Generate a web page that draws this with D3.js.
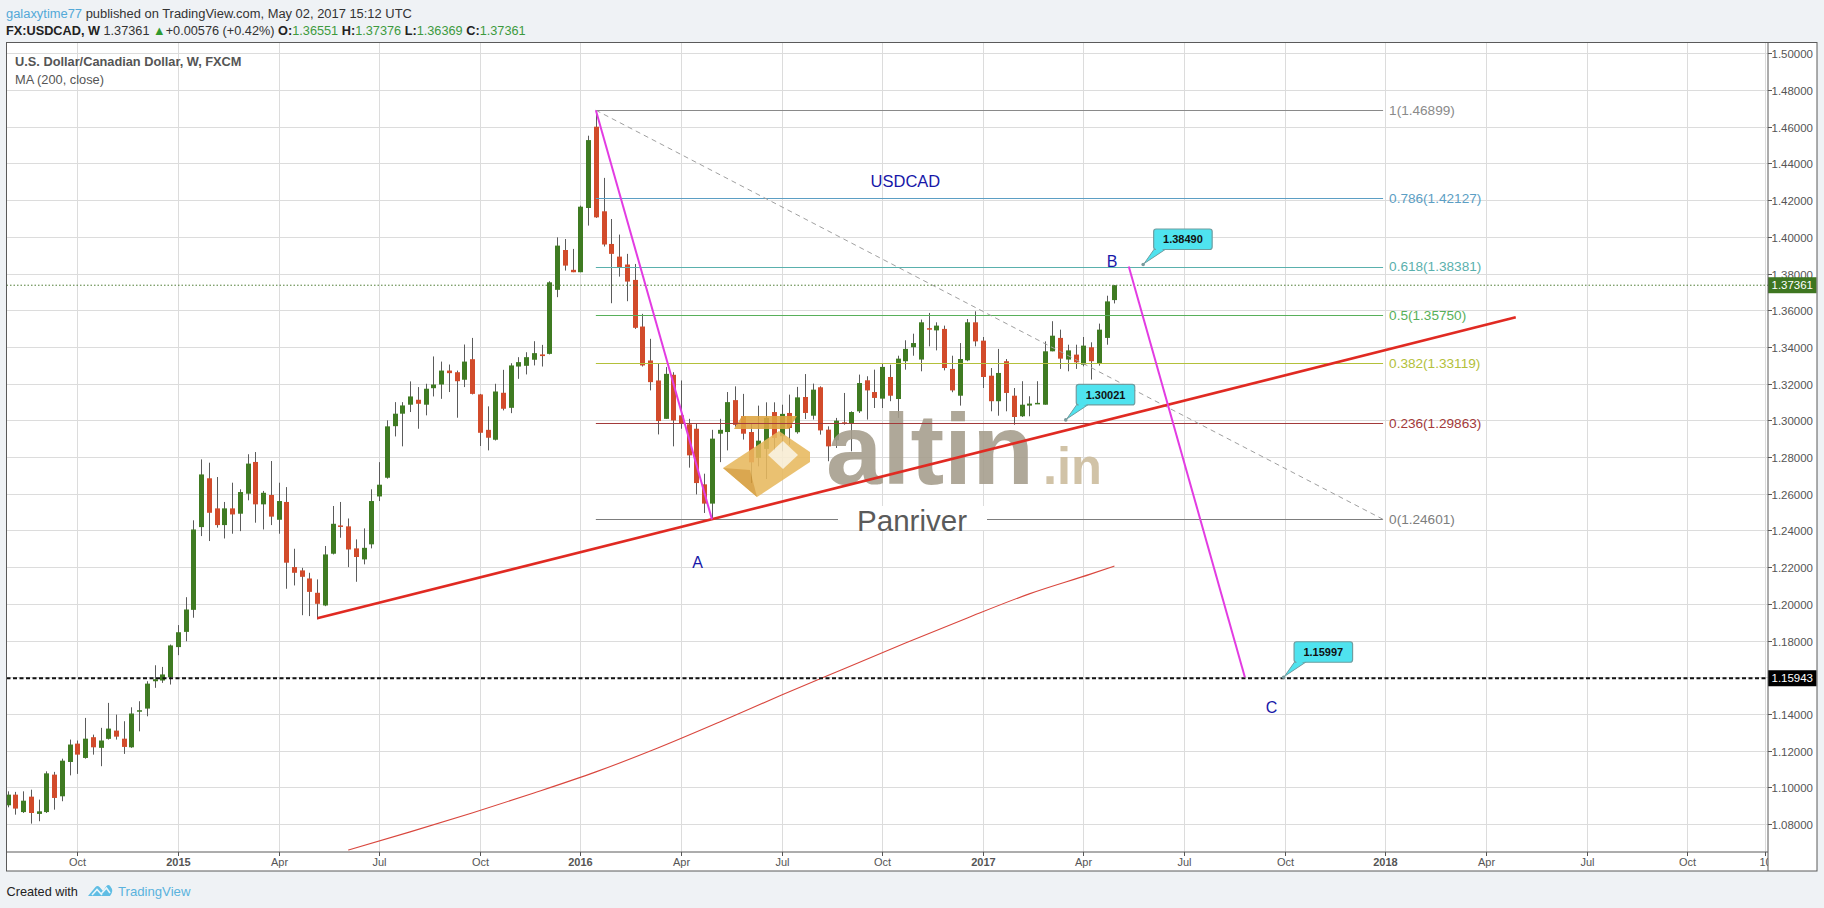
<!DOCTYPE html>
<html><head><meta charset="utf-8">
<script src="https://cdn.jsdelivr.net/npm/d3@7"></script>
<style>
html,body{margin:0;padding:0;background:#eff2f5;}
svg{display:block;font-family:"Liberation Sans",Arial,sans-serif;}
</style></head><body>
<svg id="c" width="1824" height="908"></svg>
<script>
// ---------------- DATA ----------------
const firstWeek = "2014-08-04";   // weekly bars (Mondays)
const open = [1.0902,1.0960,1.0865,1.0949,1.0855,1.0865,1.1069,1.0951,1.1138,1.1238,1.1160,1.1273,1.1215,1.1264,1.1309,1.1265,1.1218,1.1415,1.1429,1.1578,1.1582,1.1600,1.1764,1.1847,1.1967,1.2418,1.2684,1.2520,1.2429,1.2520,1.2491,1.2600,1.2773,1.2542,1.2593,1.2458,1.2555,1.2200,1.2182,1.2138,1.2060,1.1991,1.2273,1.2427,1.2422,1.2302,1.2242,1.2324,1.2585,1.2687,1.2968,1.3036,1.3085,1.3112,1.3085,1.3175,1.3195,1.3271,1.3262,1.3221,1.3333,1.3141,1.2948,1.2894,1.3150,1.3068,1.3293,1.3297,1.3330,1.3359,1.3362,1.3711,1.3928,1.3820,1.3807,1.4157,1.4600,1.4139,1.3961,1.3892,1.3849,1.3765,1.3511,1.3326,1.3217,1.3008,1.3248,1.3027,1.2978,1.2954,1.2651,1.2546,1.2927,1.2936,1.3110,1.3022,1.2936,1.2795,1.2844,1.3045,1.2913,1.3040,1.2935,1.3127,1.3025,1.3180,1.2949,1.2891,1.2989,1.2982,1.3049,1.3218,1.3154,1.3118,1.3236,1.3116,1.3322,1.3398,1.3331,1.3502,1.3490,1.3498,1.3280,1.3134,1.3327,1.3534,1.3434,1.3243,1.3104,1.3322,1.3134,1.3022,1.3080,1.3092,1.3085,1.3376,1.3449,1.3331,1.3358,1.3303,1.3398,1.3309,1.3449,1.36551];
const high = [1.0978,1.0975,1.0978,1.0987,1.0933,1.1087,1.1084,1.1156,1.1260,1.1255,1.1378,1.1287,1.1324,1.1460,1.1396,1.1360,1.1436,1.1469,1.1578,1.1665,1.1656,1.1778,1.1884,1.2036,1.2455,1.2787,1.2769,1.2691,1.2555,1.2660,1.2624,1.2815,1.2827,1.2615,1.2778,1.2660,1.2636,1.2300,1.2196,1.2169,1.2133,1.2315,1.2533,1.2555,1.2465,1.2351,1.2411,1.2624,1.2772,1.3000,1.3099,1.3099,1.3212,1.3181,1.3199,1.3348,1.3320,1.3304,1.3271,1.3413,1.3449,1.3144,1.3076,1.3199,1.3275,1.3311,1.3344,1.3371,1.3431,1.3411,1.3758,1.3997,1.3988,1.3934,1.4170,1.4551,1.4690,1.4321,1.4097,1.4012,1.3907,1.3852,1.3580,1.3444,1.3308,1.3290,1.3262,1.3217,1.3008,1.2981,1.2709,1.2948,1.3008,1.3154,1.3185,1.3144,1.2985,1.3080,1.3098,1.3098,1.3085,1.3140,1.3182,1.3252,1.3200,1.3185,1.2967,1.3013,1.3149,1.3049,1.3249,1.3240,1.3276,1.3312,1.3303,1.3352,1.3436,1.3472,1.3549,1.3585,1.3534,1.3516,1.3352,1.3421,1.3552,1.3594,1.3454,1.3285,1.3389,1.3334,1.3176,1.3213,1.3131,1.3213,1.3430,1.3540,1.3494,1.3412,1.3412,1.3454,1.3425,1.3527,1.3679,1.37376];
const low = [1.0891,1.0851,1.0860,1.0802,1.0815,1.0860,1.0878,1.0924,1.1065,1.1073,1.1156,1.1178,1.1115,1.1260,1.1260,1.1182,1.1215,1.1305,1.1387,1.1542,1.1569,1.1560,1.1720,1.1796,1.1924,1.2369,1.2342,1.2415,1.2356,1.2382,1.2396,1.2564,1.2442,1.2405,1.2429,1.2382,1.2082,1.2100,1.1938,1.1933,1.1915,1.1987,1.2269,1.2360,1.2200,1.2120,1.2215,1.2302,1.2560,1.2682,1.2912,1.2858,1.3045,1.2954,1.3027,1.3130,1.3117,1.3154,1.3014,1.3181,1.3141,1.2860,1.2836,1.2890,1.3054,1.3039,1.3226,1.3250,1.3299,1.3293,1.3359,1.3671,1.3816,1.3807,1.3807,1.4061,1.4103,1.3947,1.3638,1.3783,1.3649,1.3498,1.3293,1.3163,1.2923,1.3008,1.2858,1.2954,1.2742,1.2596,1.2495,1.2460,1.2772,1.2836,1.2965,1.2895,1.2658,1.2749,1.2680,1.2837,1.2831,1.2867,1.2927,1.3007,1.3004,1.2922,1.2777,1.2849,1.2976,1.2831,1.3040,1.3004,1.3067,1.3067,1.3104,1.3013,1.3276,1.3352,1.3267,1.3403,1.3381,1.3272,1.3153,1.3080,1.3322,1.3403,1.3176,1.3049,1.3025,1.3049,1.2976,1.3018,1.3022,1.3089,1.3085,1.3376,1.3280,1.3267,1.3280,1.3294,1.3222,1.3298,1.3412,1.36369];
const close = [1.0960,1.0884,1.0927,1.0860,1.0869,1.1076,1.0942,1.1145,1.1233,1.1178,1.1265,1.1218,1.1255,1.1320,1.1276,1.1220,1.1402,1.1420,1.1565,1.1589,1.1615,1.1773,1.1845,1.1969,1.2405,1.2705,1.2496,1.2429,1.2520,1.2487,1.2609,1.2764,1.2542,1.2605,1.2475,1.2560,1.2224,1.2169,1.2147,1.2065,1.2000,1.2269,1.2436,1.2420,1.2296,1.2255,1.2305,1.2560,1.2649,1.2967,1.3036,1.3081,1.3130,1.3090,1.3172,1.3195,1.3271,1.3257,1.3213,1.3320,1.3144,1.2932,1.2905,1.3157,1.3063,1.3299,1.3317,1.3344,1.3366,1.3350,1.3752,1.3952,1.3843,1.3807,1.4164,1.4527,1.4106,1.3958,1.3907,1.3834,1.3756,1.3504,1.3299,1.3208,1.2996,1.3253,1.2999,1.2981,1.2809,1.2658,1.2546,1.2900,1.2948,1.3099,1.2975,1.2927,1.2771,1.2889,1.3013,1.2904,1.3035,1.2958,1.3125,1.3040,1.3167,1.2945,1.2858,1.2998,1.2980,1.3045,1.3203,1.3163,1.3122,1.3291,1.3134,1.3336,1.3389,1.3421,1.3534,1.3497,1.3516,1.3285,1.3163,1.3334,1.3534,1.3430,1.3236,1.3104,1.3258,1.3149,1.3018,1.3085,1.3091,1.3095,1.3376,1.3461,1.3336,1.3381,1.3316,1.3407,1.3322,1.3494,1.3648,1.37361];

// MA(200, close)
const maDates  = ["2015-06-08","2015-08-03","2015-09-28","2015-11-23","2016-01-18","2016-03-14","2016-05-09","2016-07-04","2016-08-29","2016-10-24","2016-12-19","2017-02-13","2017-04-10","2017-05-01"];
const maValues = [1.0658,1.0757,1.0860,1.0969,1.1084,1.1214,1.1356,1.1503,1.1645,1.1786,1.1923,1.2054,1.2163,1.2206];

const priceTicks = [1.08,1.10,1.12,1.14,1.16,1.18,1.20,1.22,1.24,1.26,1.28,1.30,1.32,1.34,1.36,1.38,1.40,1.42,1.44,1.46,1.48,1.50];
const timeTickDates  = ["2014-10-06","2015-01-05","2015-04-06","2015-07-06","2015-10-05","2016-01-04","2016-04-04","2016-07-04","2016-10-03","2017-01-02","2017-04-03","2017-07-03","2017-10-02","2018-01-01","2018-04-02","2018-07-02","2018-10-01","2018-12-10"];
const timeTickLabels = ["Oct","2015","Apr","Jul","Oct","2016","Apr","Jul","Oct","2017","Apr","Jul","Oct","2018","Apr","Jul","Oct","10"];

const fibRatios = ["1","0.786","0.618","0.5","0.382","0.236","0"];
const fibValues = [1.46899,1.42127,1.38381,1.35750,1.33119,1.29863,1.24601];
const fibStart = "2016-01-18", fibEnd = "2017-12-30";

const lastPrice = 1.37361;
const targetLine = 1.15943;

const trendRed = [["2015-05-11",1.1921],["2018-04-29",1.3561]];
const waveAB   = [["2016-01-18",1.46899],["2016-05-02",1.24601]];
const waveBC   = [["2017-05-14",1.38381],["2017-08-27",1.15997]];

const calloutDates  = ["2017-05-27","2017-03-18","2017-10-01"];
const calloutValues = [1.38490,1.30021,1.15997];

const waveNames  = ["A","B","C"];
const waveDates  = ["2016-04-19","2017-04-29","2017-09-20"];
const waveValues = [1.2228,1.3868,1.1438];

// ---------------- LAYOUT ----------------
const PL=6.5, PR=1768, PT=42.5, PB=852, AXR=1817, XB=871;
const svg = d3.select("#c");
const P = d3.utcParse("%Y-%m-%d");
const x = d3.scaleUtc().domain([P("2014-10-06"),P("2018-01-01")]).range([77.3,1385.3]);
const y = d3.scaleLinear().domain([1.064741,1.505886]).range([PB,PT]);
const dates = open.map((_,i)=>d3.utcWeek.offset(P(firstWeek), i));

function fitWidth(sel, w){
  const n = sel.node(), len = n.getComputedTextLength();
  if(len>0) sel.attr("font-size", parseFloat(sel.attr("font-size"))*w/len);
}

// frame
svg.append("rect").attr("x",PL).attr("y",PT).attr("width",AXR-PL).attr("height",XB-PT).attr("fill","#fff");
svg.append("defs").append("clipPath").attr("id","plot").append("rect")
  .attr("x",PL).attr("y",PT).attr("width",PR-PL).attr("height",PB-PT);
svg.select("defs").append("clipPath").attr("id","xax").append("rect")
  .attr("x",PL).attr("y",PB).attr("width",PR-PL).attr("height",XB-PB);

const g = svg.append("g").attr("clip-path","url(#plot)");

// grid
g.selectAll("line.hg").data(priceTicks).join("line")
  .attr("x1",PL).attr("x2",PR).attr("y1",d=>Math.round(y(d))+0.5).attr("y2",d=>Math.round(y(d))+0.5)
  .attr("stroke","#dcdcdc").attr("stroke-width",1);
g.selectAll("line.vg").data(timeTickDates).join("line")
  .attr("y1",PT).attr("y2",PB).attr("x1",d=>Math.round(x(P(d)))+0.5).attr("x2",d=>Math.round(x(P(d)))+0.5)
  .attr("stroke","#dcdcdc").attr("stroke-width",1);

// MA 200
g.append("path").datum(maDates.map((d,i)=>[P(d),maValues[i]]))
  .attr("d",d3.line().x(d=>x(d[0])).y(d=>y(d[1])).curve(d3.curveMonotoneX))
  .attr("fill","none").attr("stroke","#d9473e").attr("stroke-width",1.1);

// candles
const UP="#3f7b22", DN="#d24b2b";
const cg = g.append("g");
dates.forEach((d,i)=>{
  const cx = Math.round(x(d));
  const up = close[i]>=open[i];
  cg.append("line").attr("x1",cx+0.5).attr("x2",cx+0.5).attr("y1",y(high[i])).attr("y2",y(low[i]))
    .attr("stroke","#5b5b5b").attr("stroke-width",1);
  const t = y(Math.max(open[i],close[i])), b = y(Math.min(open[i],close[i]));
  cg.append("rect").attr("x",cx-2).attr("width",5).attr("y",t).attr("height",Math.max(1.5,b-t))
    .attr("fill",up?UP:DN);
});

// watermark
const wm = g.append("g").attr("opacity",0.88);
wm.append("polygon").attr("points","723,468 779,431 810,452 810,462 757,497").attr("fill","#e8b95e");
wm.append("polygon").attr("points","723,468 757,497 750,470").attr("fill","#d69c38");
wm.append("polygon").attr("points","768,455 783,441 798,455 783,469").attr("fill","#f8ecd2");
wm.append("polygon").attr("points","742,416 797,416 789,429 734,429").attr("fill","#dfa640");
wm.append("text").attr("x",826).attr("y",484).attr("font-size",100).attr("font-weight","bold")
  .attr("fill","#a59d8c").attr("textLength",208).attr("lengthAdjust","spacingAndGlyphs").text("altin");
wm.append("text").attr("x",1043).attr("y",484).attr("font-size",52).attr("font-weight","bold")
  .attr("fill","#cbbb9c").attr("textLength",59).attr("lengthAdjust","spacingAndGlyphs").text(".in");

// fib retracement
const fibColors = ["#8a8a8a","#5b9ec4","#5ab0ad","#58b05a","#b3c03a","#a33a3a","#7d7d7d"];
const fx1 = x(P(fibStart)), fx2 = x(P(fibEnd));
fibValues.forEach((v,i)=>{
  g.append("line").attr("x1",fx1).attr("x2",fx2).attr("y1",Math.round(y(v))+0.5).attr("y2",Math.round(y(v))+0.5)
   .attr("stroke",fibColors[i]).attr("stroke-width",1);
});
g.append("line").attr("x1",fx1).attr("y1",y(fibValues[0])).attr("x2",fx2).attr("y2",y(fibValues[6]))
  .attr("stroke","#a0a0a0").attr("stroke-width",1).attr("stroke-dasharray","5,4");
fibValues.forEach((v,i)=>{
  g.append("text").attr("x",fx2+6).attr("y",y(v)).attr("dy","0.36em").attr("font-size",13.6)
   .attr("fill",fibColors[i]).text(fibRatios[i]+"("+v.toFixed(5)+")");
});

// Panriver
g.append("rect").attr("x",838).attr("y",506).attr("width",149).attr("height",24).attr("fill","#fff");
g.append("text").attr("x",857).attr("y",531).attr("font-size",30).attr("fill","#5a5a5a")
  .attr("textLength",110).attr("lengthAdjust","spacingAndGlyphs").text("Panriver");

// price lines
g.append("line").attr("x1",PL).attr("x2",PR).attr("y1",y(lastPrice)).attr("y2",y(lastPrice))
  .attr("stroke","#4f7d36").attr("stroke-width",1).attr("stroke-dasharray","1.5,2");
g.append("line").attr("x1",PL).attr("x2",PR).attr("y1",y(targetLine)).attr("y2",y(targetLine))
  .attr("stroke","#111").attr("stroke-width",2).attr("stroke-dasharray","4,2.5");

// trend lines
const L = d3.line().x(d=>x(P(d[0]))).y(d=>y(d[1]));
g.append("path").attr("d",L(trendRed)).attr("stroke","#e02a22").attr("stroke-width",2.6).attr("fill","none");
g.append("path").attr("d",L(waveAB)).attr("stroke","#e23ce2").attr("stroke-width",2).attr("fill","none");
g.append("path").attr("d",L(waveBC)).attr("stroke","#e23ce2").attr("stroke-width",2).attr("fill","none");

// wave letters & title
waveNames.forEach((n,i)=>{
  g.append("text").attr("x",x(P(waveDates[i]))).attr("y",y(waveValues[i])).attr("dy","0.36em")
   .attr("text-anchor","middle").attr("font-size",16).attr("fill","#1717a8").text(n);
});
g.append("text").attr("x",x(P("2016-10-24"))).attr("y",y(1.4304)).attr("dy","0.36em")
  .attr("text-anchor","middle").attr("font-size",16.5).attr("fill","#1717a8").text("USDCAD");

// callouts
calloutDates.forEach((d,i)=>{
  const ax = x(P(d)), ay = y(calloutValues[i]);
  const bx = ax+10.5, by = ay-35.5, bw=58.5, bh=20.5;
  g.append("polygon").attr("points",`${bx+1},${by+bh-1} ${bx+13},${by+bh-1} ${ax+1},${ay-1}`)
    .attr("fill","#4fe3ef").attr("stroke","#6f9da0").attr("stroke-width",1);
  g.append("rect").attr("x",bx).attr("y",by).attr("width",bw).attr("height",bh).attr("rx",2.5)
    .attr("fill","#4fe3ef").attr("stroke","#6f9da0").attr("stroke-width",1.2);
  g.append("polygon").attr("points",`${bx+2},${by+bh-1.5} ${bx+12},${by+bh-1.5} ${bx+3},${by+bh+3}`)
    .attr("fill","#4fe3ef");
  g.append("circle").attr("cx",ax).attr("cy",ay).attr("r",1.8).attr("fill","#7a9a9c");
  g.append("text").attr("x",bx+bw/2).attr("y",by+bh/2).attr("dy","0.36em").attr("text-anchor","middle")
    .attr("font-size",11).attr("font-weight","bold").attr("fill","#111").text(calloutValues[i].toFixed(5));
});

// chart title
g.append("text").attr("x",15).attr("y",65.5).attr("font-size",13).attr("font-weight","bold").attr("fill","#555")
  .attr("textLength",226.5).attr("lengthAdjust","spacingAndGlyphs").text("U.S. Dollar/Canadian Dollar, W, FXCM");
g.append("text").attr("x",15).attr("y",84).attr("font-size",13).attr("fill","#555")
  .attr("textLength",89).attr("lengthAdjust","spacingAndGlyphs").text("MA (200, close)");

// ---------- axes ----------
const pa = svg.append("g");
priceTicks.forEach(v=>{
  const yy = Math.round(y(v))+0.5;
  pa.append("line").attr("x1",PR).attr("x2",PR+4).attr("y1",yy).attr("y2",yy).attr("stroke","#555");
  pa.append("text").attr("x",PR+3.5).attr("y",yy).attr("dy","0.36em").attr("font-size",11.5).attr("fill","#555")
    .attr("textLength",41.5).attr("lengthAdjust","spacingAndGlyphs").text(v.toFixed(5));
});
[[lastPrice,"#3e7621"],[targetLine,"#000"]].forEach(([v,c])=>{
  const yy = y(v);
  pa.append("rect").attr("x",PR).attr("y",yy-8).attr("width",AXR-PR-0.5).attr("height",16).attr("fill",c);
  pa.append("text").attr("x",PR+3.5).attr("y",yy).attr("dy","0.36em").attr("font-size",11.5).attr("fill","#fff")
    .attr("textLength",41.5).attr("lengthAdjust","spacingAndGlyphs").text(v.toFixed(5));
});
const ta = svg.append("g").attr("clip-path","url(#xax)");
timeTickDates.forEach((d,i)=>{
  const xx = Math.round(x(P(d)))+0.5;
  ta.append("line").attr("x1",xx).attr("x2",xx).attr("y1",PB).attr("y2",PB+4).attr("stroke","#555");
  const yr = /^\d{4}$/.test(timeTickLabels[i]);
  ta.append("text").attr("x",xx).attr("y",866).attr("text-anchor","middle").attr("font-size",11)
    .attr("font-weight",yr?"bold":"normal").attr("fill","#555").text(timeTickLabels[i]);
});
svg.append("rect").attr("x",PL).attr("y",PT).attr("width",AXR-PL).attr("height",XB-PT)
  .attr("fill","none").attr("stroke","#5a5a5a").attr("stroke-width",1);
svg.append("line").attr("x1",PL).attr("x2",PR).attr("y1",PB).attr("y2",PB).attr("stroke","#5a5a5a");
svg.append("line").attr("x1",PR).attr("x2",PR).attr("y1",PT).attr("y2",XB).attr("stroke","#5a5a5a");

// ---------- header ----------
const h1 = svg.append("text").attr("x",6).attr("y",17.5).attr("font-size",14);
h1.append("tspan").attr("fill","#53a9d8").text("galaxytime77");
h1.append("tspan").attr("fill","#333").text(" published on TradingView.com, May 02, 2017 15:12 UTC");
fitWidth(h1, 406);

const h2 = svg.append("text").attr("x",6).attr("y",34.5).attr("font-size",14);
const GR = "#3d9a3d";
h2.append("tspan").attr("font-weight","bold").attr("fill","#222").text("FX:USDCAD, W ");
h2.append("tspan").attr("fill","#333").text("1.37361 ");
h2.append("tspan").attr("fill","#2f9a2f").text("▲");
h2.append("tspan").attr("fill","#333").text("+0.00576 (+0.42%) ");
[["O:","1.36551"],["H:","1.37376"],["L:","1.36369"],["C:","1.37361"]].forEach(([k,v],i)=>{
  h2.append("tspan").attr("font-weight","bold").attr("fill","#222").text((i?" ":"")+k);
  h2.append("tspan").attr("fill",GR).text(v);
});
fitWidth(h2, 520);

// ---------- footer ----------
const f1 = svg.append("text").attr("x",6.5).attr("y",895.5).attr("font-size",14).attr("fill","#222").text("Created with");
fitWidth(f1, 71.5);
svg.append("path").attr("d","M88,896 L95.5,887 Q97.5,885 99.5,887 L103,891 L106.5,886 Q108.5,884 110.5,886.5 L112,889 Q113,892 110,896 Z")
  .attr("fill","#5fbde4");
svg.append("path").attr("d","M92,895 L97,889.5 L102,895 M101,894 L106.5,888 L110,893")
  .attr("fill","none").attr("stroke","#eaf6fb").attr("stroke-width",1.6);
const f2 = svg.append("text").attr("x",118).attr("y",895.5).attr("font-size",14).attr("fill","#5ab2dd").text("TradingView");
fitWidth(f2, 72.5);
</script></body></html>
